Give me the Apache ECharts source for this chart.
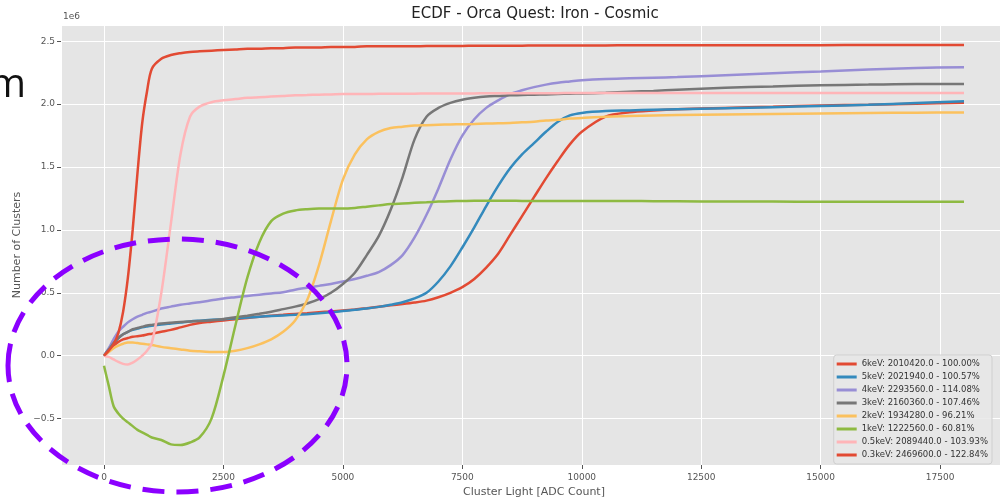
<!DOCTYPE html>
<html><head><meta charset="utf-8">
<script src="https://cdn.jsdelivr.net/npm/echarts@6/dist/echarts.min.js"></script>
<style>html,body{margin:0;padding:0;background:#fff}#c{width:1000px;height:497px}</style>
</head><body><div id="c"></div>
<script>
// x positions (ADC count)
const xs = [0,100,200,300,400,500,600,700,800,900,1000,1200,1400,1600,1800,2000,2250,2500,2750,3000,3250,3500,3750,4000,4250,4500,4750,5000,5250,5500,5750,6000,6250,6500,6750,7000,7250,7500,7750,8000,8250,8500,8750,9000,9250,9500,9750,10000,10500,11000,11500,12000,13000,14000,15000,16000,17000,18000];
// values in units of 1e6 clusters
const s6keV = [0,0.04,0.08,0.11,0.13,0.14,0.15,0.155,0.16,0.168,0.175,0.19,0.205,0.225,0.245,0.26,0.27,0.28,0.29,0.3,0.31,0.318,0.325,0.332,0.338,0.345,0.352,0.36,0.368,0.378,0.39,0.4,0.41,0.422,0.438,0.465,0.5,0.545,0.61,0.7,0.81,0.96,1.11,1.26,1.41,1.55,1.68,1.78,1.9,1.935,1.95,1.96,1.97,1.98,1.99,1.995,2.003,2.01];
const s5keV = [0,0.05,0.1,0.14,0.17,0.19,0.205,0.215,0.225,0.232,0.238,0.248,0.256,0.264,0.272,0.278,0.285,0.29,0.297,0.303,0.31,0.315,0.32,0.325,0.33,0.337,0.345,0.355,0.365,0.375,0.388,0.405,0.425,0.455,0.5,0.59,0.71,0.86,1.02,1.19,1.35,1.49,1.6,1.69,1.78,1.86,1.91,1.93,1.945,1.95,1.955,1.96,1.968,1.976,1.985,1.995,2.008,2.022];
const s4keV = [0,0.06,0.13,0.19,0.23,0.265,0.29,0.31,0.325,0.34,0.35,0.375,0.39,0.405,0.415,0.425,0.44,0.455,0.465,0.475,0.485,0.495,0.505,0.525,0.54,0.555,0.57,0.59,0.61,0.635,0.665,0.72,0.8,0.94,1.12,1.33,1.56,1.75,1.88,1.97,2.03,2.08,2.11,2.135,2.155,2.17,2.18,2.19,2.2,2.205,2.21,2.215,2.23,2.245,2.26,2.275,2.288,2.294];
const s3keV = [0,0.05,0.1,0.14,0.17,0.19,0.21,0.22,0.23,0.24,0.245,0.255,0.262,0.268,0.272,0.275,0.282,0.292,0.305,0.318,0.333,0.35,0.37,0.39,0.415,0.45,0.5,0.57,0.66,0.8,0.95,1.16,1.42,1.72,1.9,1.97,2.01,2.035,2.05,2.06,2.065,2.07,2.072,2.075,2.077,2.08,2.083,2.085,2.09,2.098,2.105,2.115,2.13,2.14,2.15,2.155,2.16,2.16];
const s2keV = [0,0.03,0.06,0.08,0.095,0.105,0.105,0.1,0.095,0.09,0.085,0.07,0.06,0.05,0.04,0.035,0.03,0.03,0.04,0.06,0.09,0.13,0.19,0.28,0.44,0.72,1.07,1.4,1.6,1.72,1.78,1.81,1.82,1.83,1.833,1.836,1.838,1.84,1.842,1.845,1.848,1.85,1.855,1.86,1.87,1.875,1.885,1.89,1.9,1.905,1.91,1.913,1.918,1.922,1.926,1.93,1.932,1.934];
const s1keV = [-0.08,-0.24,-0.4,-0.46,-0.5,-0.53,-0.56,-0.59,-0.61,-0.63,-0.65,-0.67,-0.705,-0.71,-0.69,-0.65,-0.5,-0.16,0.24,0.62,0.9,1.07,1.13,1.155,1.165,1.17,1.17,1.17,1.175,1.185,1.195,1.205,1.21,1.215,1.22,1.225,1.228,1.23,1.232,1.232,1.232,1.232,1.23,1.23,1.23,1.23,1.23,1.23,1.23,1.23,1.228,1.227,1.225,1.225,1.224,1.223,1.223,1.223];
const s05keV = [0,-0.01,-0.03,-0.05,-0.065,-0.07,-0.055,-0.03,0.0,0.04,0.1,0.5,1.05,1.6,1.9,1.98,2.015,2.03,2.04,2.05,2.055,2.06,2.065,2.07,2.072,2.075,2.077,2.08,2.08,2.08,2.082,2.082,2.083,2.083,2.084,2.084,2.085,2.085,2.085,2.086,2.086,2.086,2.087,2.087,2.087,2.087,2.088,2.088,2.088,2.088,2.088,2.089,2.089,2.089,2.089,2.089,2.089,2.089];
const s03keV = [0,0.04,0.09,0.18,0.35,0.62,1.0,1.45,1.85,2.1,2.28,2.36,2.39,2.405,2.415,2.42,2.425,2.43,2.435,2.44,2.44,2.445,2.445,2.45,2.45,2.45,2.455,2.455,2.455,2.46,2.46,2.46,2.46,2.46,2.462,2.462,2.463,2.463,2.464,2.464,2.465,2.465,2.465,2.466,2.466,2.466,2.467,2.467,2.467,2.468,2.468,2.468,2.469,2.469,2.469,2.47,2.47,2.47];

const seriesNames = ['6keV: 2010420.0 - 100.00%','5keV: 2021940.0 - 100.57%','4keV: 2293560.0 - 114.08%','3keV: 2160360.0 - 107.46%','2keV: 1934280.0 - 96.21%','1keV: 1222560.0 - 60.81%','0.5keV: 2089440.0 - 103.93%','0.3keV: 2469600.0 - 122.84%'];
const seriesValues = [s6keV,s5keV,s4keV,s3keV,s2keV,s1keV,s05keV,s03keV];
const colors = ['#E24A33','#348ABD','#988ED5','#777777','#FBC15E','#8EBA42','#FFB5B8','#E24A33'];

const FONT = 'DejaVu Sans';
const chart = echarts.init(document.getElementById('c'), null, {renderer:'canvas'});
const series = seriesNames.map((n,i)=>({
  name:n, type:'line', showSymbol:false, smooth:0.3,
  data: xs.map((x,j)=>[x, seriesValues[i][j]]),
  lineStyle:{width:2.5, color:colors[i]}, itemStyle:{color:colors[i]},
  emphasis:{disabled:true}, z:2+i
}));
chart.setOption({
  animation:false,
  backgroundColor:'#ffffff',
  title:{text:'ECDF - Orca Quest: Iron - Cosmic', left:530, top:2, textAlign:'center',
    textStyle:{fontFamily:FONT, fontSize:15, fontWeight:'normal', color:'#222'}},
  grid:{left:61, top:25, width:946, height:440, show:true, backgroundColor:'#E5E5E5', borderWidth:0,
    outerBoundsMode:'none', containLabel:false},
  legend:{
    orient:'vertical', right:8, top:355, itemWidth:20, itemHeight:3, itemGap:3,
    icon:'rect', padding:[4,4,4,3],
    backgroundColor:'rgba(232,232,232,0.85)', borderColor:'#cfcfcf', borderWidth:1, borderRadius:3,
    textStyle:{fontFamily:FONT, fontSize:8.5, color:'#333', lineHeight:10},
    data: seriesNames
  },
  xAxis:{type:'value', min:-900, max:18900, minInterval:2500, maxInterval:2500,
    name:'Cluster Light [ADC Count]', nameLocation:'middle', nameGap:22,
    nameTextStyle:{fontFamily:FONT, fontSize:11, color:'#555'},
    axisLine:{show:false, onZero:false},
    axisTick:{show:true, length:4, lineStyle:{color:'#555'}},
    axisLabel:{fontFamily:FONT, fontSize:9, color:'#555', margin:8, showMinLabel:false, showMaxLabel:false,
      formatter:v=> (v%2500===0)? String(v):''},
    splitLine:{show:true, lineStyle:{color:'#ffffff', width:1}}
  },
  yAxis:{type:'value', min:-0.869, max:2.629, minInterval:0.5, maxInterval:0.5,
    name:'Number of Clusters', nameLocation:'middle', nameGap:37,
    nameTextStyle:{fontFamily:FONT, fontSize:11, color:'#555'},
    axisLine:{show:false, onZero:false},
    axisTick:{show:true, length:4, lineStyle:{color:'#555'}},
    axisLabel:{fontFamily:FONT, fontSize:9, color:'#555', margin:6, showMinLabel:false, showMaxLabel:false,
      formatter:v=> (Math.abs(v*2-Math.round(v*2))<1e-6)? v.toFixed(1).replace('-','\u2212'):''},
    splitLine:{show:true, lineStyle:{color:'#ffffff', width:1}}
  },
  graphic:[
    {type:'text', left:63, top:12, style:{text:'1e6', fontFamily:FONT, fontSize:9, fill:'#555'}, z:10},
    {type:'text', x:26, y:86, style:{text:'m', fontFamily:'Open Sans', fontSize:40, fill:'#111', align:'right', verticalAlign:'middle'}, z:10},
    {type:'ellipse', shape:{cx:177.5, cy:365.5, rx:169.5, ry:126.5},
      style:{fill:'none', stroke:'#8B00FF', lineWidth:5, lineDash:[22,12]}, z:100}
  ],
  series: series
});
</script></body></html>
